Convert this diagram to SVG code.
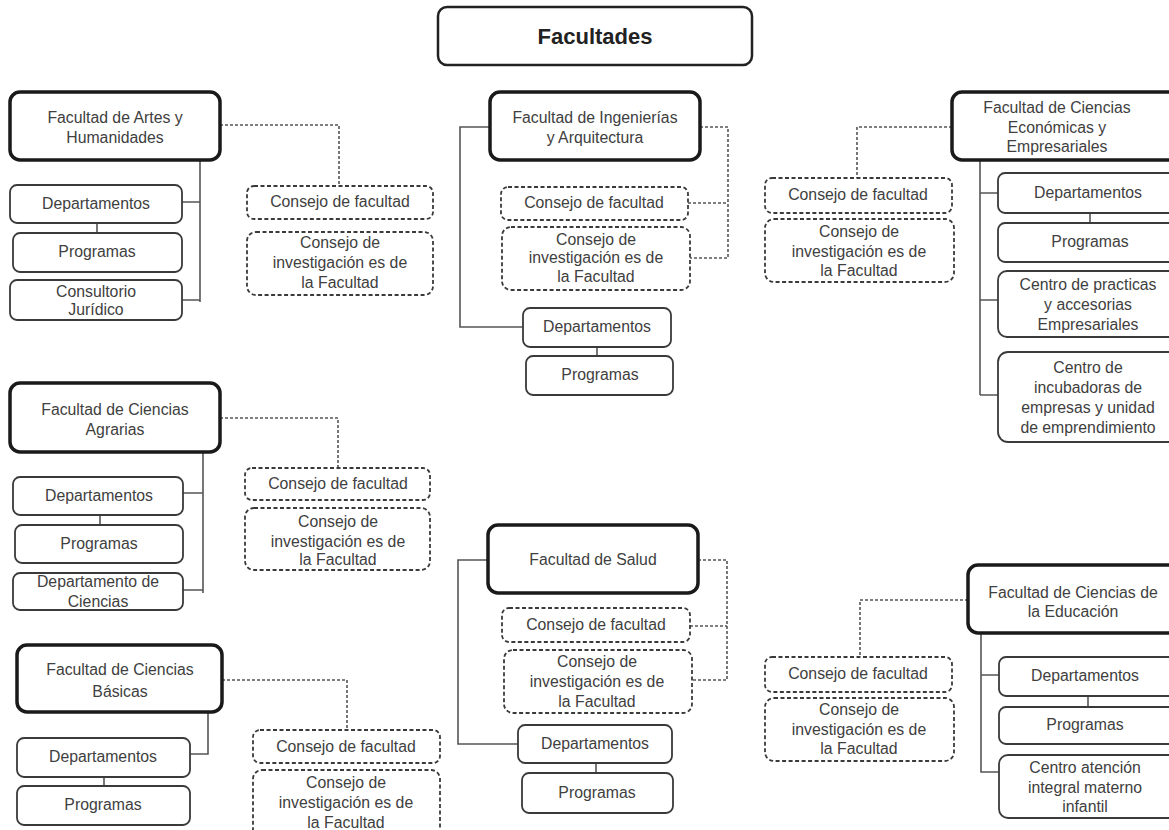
<svg xmlns="http://www.w3.org/2000/svg" width="1169" height="830" viewBox="0 0 1169 830">
<style>
.main{fill:#fff;stroke:#1a1a1a;stroke-width:3.5}
.title{fill:#fff;stroke:#222;stroke-width:2.5}
.box{fill:#fff;stroke:#3a3a3a;stroke-width:1.8}
.dbox{fill:#fff;stroke:#3a3a3a;stroke-width:1.8;stroke-dasharray:4 2.5}
.ln{fill:none;stroke:#555;stroke-width:1.6}
.dln{fill:none;stroke:#555;stroke-width:1.6;stroke-dasharray:3 2}
text{font-family:"Liberation Sans",Arial,sans-serif;font-size:15.8px;fill:#404040;text-anchor:middle}
.t{font-size:22px;font-weight:bold;fill:#222}
</style>
<rect width="1169" height="830" fill="#fff"/>
<g id="connectors">
<path class="ln" d="M200,160V302M182,202H200M182,300H200M97,223V233"/>
<path class="dln" d="M220,125H339V186"/>
<path class="ln" d="M490,127H460V327H523M597,347V356"/>
<path class="dln" d="M700,127H728V258H690M688,203H728"/>
<path class="ln" d="M980,160V395M980,193H998M980,300H998M980,395H998M1090,213V223"/>
<path class="dln" d="M952,127H857V178"/>
<path class="ln" d="M203,452V593M183,493H203M183,590H203M100,515V525"/>
<path class="dln" d="M220,418H338V468"/>
<path class="ln" d="M208,712V754H190M104,777V786"/>
<path class="dln" d="M222,680H347V730"/>
<path class="ln" d="M488,560H458V744H518M596,763V773"/>
<path class="dln" d="M698,560H727V680H692M690,626H727"/>
<path class="ln" d="M981,633V772H999M981,675H999M1088,696V707"/>
<path class="dln" d="M968,600H860V657"/>
</g>
<g id="facultades"><rect class="title" x="438" y="7" width="314" height="58" rx="9"/><text class="t" x="595" y="44">Facultades</text></g>

<g id="artes"><rect class="main" x="10" y="92" width="210" height="68" rx="10"/><text x="115" y="123">Facultad de Artes y</text><text x="115" y="143">Humanidades</text></g>
<g id="artes-dep"><rect class="box" x="10" y="185" width="172" height="38" rx="7"/><text x="96" y="209">Departamentos</text></g>
<g id="artes-prog"><rect class="box" x="13" y="233" width="169" height="39" rx="7"/><text x="97" y="257">Programas</text></g>
<g id="artes-cons"><rect class="box" x="10" y="280" width="172" height="40" rx="7"/><text x="96" y="297">Consultorio</text><text x="96" y="315">Jurídico</text></g>
<g id="artes-cf"><rect class="dbox" x="247" y="186" width="186" height="33" rx="7"/><text x="340" y="207">Consejo de facultad</text></g>
<g id="artes-ci"><rect class="dbox" x="247" y="232" width="186" height="63" rx="9"/><text x="340" y="248">Consejo de</text><text x="340" y="268">investigación es de</text><text x="340" y="288">la Facultad</text></g>

<g id="ing"><rect class="main" x="490" y="92" width="210" height="68" rx="10"/><text x="595" y="123">Facultad de Ingenierías</text><text x="595" y="143">y Arquitectura</text></g>
<g id="ing-cf"><rect class="dbox" x="501" y="187" width="187" height="33" rx="7"/><text x="594" y="208">Consejo de facultad</text></g>
<g id="ing-ci"><rect class="dbox" x="502" y="227" width="188" height="63" rx="9"/><text x="596" y="245">Consejo de</text><text x="596" y="263">investigación es de</text><text x="596" y="282">la Facultad</text></g>
<g id="ing-dep"><rect class="box" x="523" y="308" width="148" height="39" rx="7"/><text x="597" y="332">Departamentos</text></g>
<g id="ing-prog"><rect class="box" x="526" y="356" width="147" height="39" rx="7"/><text x="600" y="380">Programas</text></g>

<g id="eco"><rect class="main" x="952" y="92" width="230" height="68" rx="10"/><text x="1057" y="113">Facultad de Ciencias</text><text x="1057" y="133">Económicas y</text><text x="1057" y="152">Empresariales</text></g>
<g id="eco-cf"><rect class="dbox" x="765" y="178" width="187" height="35" rx="7"/><text x="858" y="200">Consejo de facultad</text></g>
<g id="eco-ci"><rect class="dbox" x="765" y="219" width="189" height="63" rx="9"/><text x="859" y="237">Consejo de</text><text x="859" y="257">investigación es de</text><text x="859" y="276">la Facultad</text></g>
<g id="eco-dep"><rect class="box" x="998" y="173" width="182" height="40" rx="7"/><text x="1088" y="198">Departamentos</text></g>
<g id="eco-prog"><rect class="box" x="998" y="223" width="182" height="39" rx="7"/><text x="1090" y="247">Programas</text></g>
<g id="eco-cp"><rect class="box" x="998" y="271" width="182" height="66" rx="9"/><text x="1088" y="290">Centro de practicas</text><text x="1088" y="310">y accesorias</text><text x="1088" y="330">Empresariales</text></g>
<g id="eco-inc"><rect class="box" x="998" y="352" width="182" height="90" rx="10"/><text x="1088" y="373">Centro de</text><text x="1088" y="393">incubadoras de</text><text x="1088" y="413">empresas y unidad</text><text x="1088" y="433">de emprendimiento</text></g>

<g id="agr"><rect class="main" x="10" y="383" width="210" height="69" rx="10"/><text x="115" y="415">Facultad de Ciencias</text><text x="115" y="435">Agrarias</text></g>
<g id="agr-dep"><rect class="box" x="13" y="477" width="170" height="38" rx="7"/><text x="99" y="501">Departamentos</text></g>
<g id="agr-prog"><rect class="box" x="15" y="525" width="168" height="38" rx="7"/><text x="99" y="549">Programas</text></g>
<g id="agr-dc"><rect class="box" x="13" y="573" width="170" height="37" rx="7"/><text x="98" y="587">Departamento de</text><text x="98" y="607">Ciencias</text></g>
<g id="agr-cf"><rect class="dbox" x="245" y="468" width="185" height="32" rx="7"/><text x="338" y="489">Consejo de facultad</text></g>
<g id="agr-ci"><rect class="dbox" x="245" y="508" width="185" height="62" rx="9"/><text x="338" y="527">Consejo de</text><text x="338" y="547">investigación es de</text><text x="338" y="565">la Facultad</text></g>

<g id="bas"><rect class="main" x="17" y="645" width="205" height="67" rx="10"/><text x="120" y="675">Facultad de Ciencias</text><text x="120" y="697">Básicas</text></g>
<g id="bas-dep"><rect class="box" x="17" y="738" width="173" height="39" rx="7"/><text x="103" y="762">Departamentos</text></g>
<g id="bas-prog"><rect class="box" x="17" y="786" width="173" height="39" rx="7"/><text x="103" y="810">Programas</text></g>
<g id="bas-cf"><rect class="dbox" x="253" y="730" width="187" height="33" rx="7"/><text x="346" y="752">Consejo de facultad</text></g>
<g id="bas-ci"><rect class="dbox" x="253" y="770" width="187" height="75" rx="9"/><text x="346" y="788">Consejo de</text><text x="346" y="808">investigación es de</text><text x="346" y="828">la Facultad</text></g>

<g id="salud"><rect class="main" x="488" y="525" width="210" height="68" rx="10"/><text x="593" y="565">Facultad de Salud</text></g>
<g id="salud-cf"><rect class="dbox" x="502" y="608" width="188" height="34" rx="7"/><text x="596" y="630">Consejo de facultad</text></g>
<g id="salud-ci"><rect class="dbox" x="504" y="650" width="188" height="63" rx="9"/><text x="597" y="667">Consejo de</text><text x="597" y="687">investigación es de</text><text x="597" y="707">la Facultad</text></g>
<g id="salud-dep"><rect class="box" x="518" y="725" width="154" height="38" rx="7"/><text x="595" y="749">Departamentos</text></g>
<g id="salud-prog"><rect class="box" x="522" y="773" width="151" height="40" rx="7"/><text x="597" y="798">Programas</text></g>

<g id="edu"><rect class="main" x="968" y="565" width="212" height="68" rx="10"/><text x="1073" y="598">Facultad de Ciencias de</text><text x="1073" y="617">la Educación</text></g>
<g id="edu-cf"><rect class="dbox" x="765" y="657" width="187" height="35" rx="7"/><text x="858" y="679">Consejo de facultad</text></g>
<g id="edu-ci"><rect class="dbox" x="765" y="698" width="189" height="63" rx="9"/><text x="859" y="715">Consejo de</text><text x="859" y="735">investigación es de</text><text x="859" y="754">la Facultad</text></g>
<g id="edu-dep"><rect class="box" x="999" y="657" width="181" height="39" rx="7"/><text x="1085" y="681">Departamentos</text></g>
<g id="edu-prog"><rect class="box" x="999" y="707" width="181" height="37" rx="7"/><text x="1085" y="730">Programas</text></g>
<g id="edu-ca"><rect class="box" x="999" y="755" width="181" height="63" rx="9"/><text x="1085" y="773">Centro atención</text><text x="1085" y="793">integral materno</text><text x="1085" y="812">infantil</text></g>
</svg>
